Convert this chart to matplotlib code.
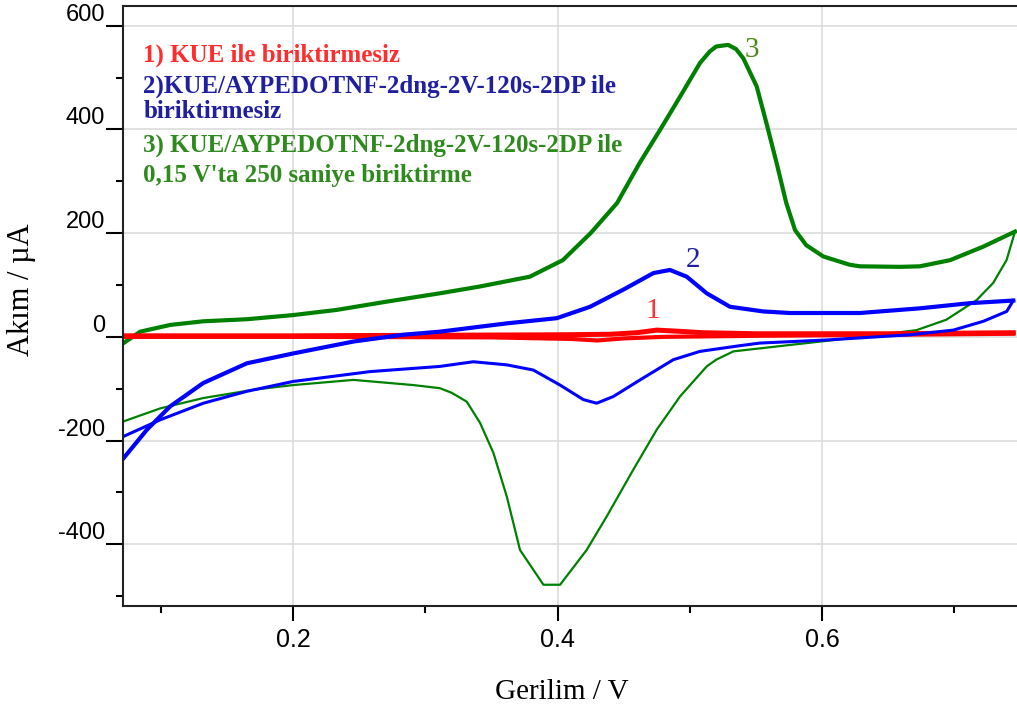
import matplotlib.pyplot as plt

# curve 3: KUE/AYPEDOTNF ... 250 s accumulation (green)
g_fwd_x = [0.0717, 0.0843, 0.107, 0.132, 0.165, 0.200, 0.233, 0.271, 0.311, 0.341, 0.379, 0.404,
           0.425, 0.445, 0.462, 0.4775, 0.4926, 0.5077, 0.515, 0.520, 0.529, 0.535, 0.5405, 0.5506,
           0.558, 0.5657, 0.573, 0.5796, 0.588, 0.601, 0.621, 0.6287, 0.659, 0.674, 0.697, 0.722, 0.746]
g_fwd_y = [-12, 10, 23, 30, 34, 42, 52, 68, 84, 97, 116, 148,
           200, 258, 335, 399, 463, 528, 550, 560, 563, 555, 537, 483,
           412, 335, 258, 206, 177, 155, 139, 136, 135, 136, 148, 174, 203]
g_rev_x = [0.746, 0.7396, 0.7295, 0.717, 0.694, 0.6716, 0.634, 0.578, 0.533, 0.520, 0.5128, 0.4926,
           0.475, 0.4573, 0.437, 0.422, 0.4019, 0.3893, 0.3716, 0.3616, 0.3515, 0.3414, 0.3313,
           0.320, 0.311, 0.291, 0.2456, 0.200, 0.170, 0.132, 0.0994, 0.0717]
g_rev_y = [203, 148, 104, 71, 33, 13, 1, -15, -28, -44, -57, -115,
           -179, -256, -347, -411, -478, -478, -411, -308, -224, -166, -125,
           -108, -99, -93, -83, -93, -102, -118, -138, -163]

# curve 2: KUE/AYPEDOTNF without accumulation (blue)
b_fwd_x = [0.0717, 0.0894, 0.107, 0.132, 0.165, 0.200, 0.2456, 0.283, 0.311, 0.3616, 0.3994, 0.4246,
           0.4497, 0.4725, 0.485, 0.4977, 0.5128, 0.5304, 0.5556, 0.5758, 0.6287, 0.674, 0.712, 0.7447]
b_fwd_y = [-234, -179, -134, -89, -51, -32, -9, 4, 10, 26, 36, 58,
           91, 123, 129, 116, 84, 58, 49, 46, 46, 55, 65, 70]
b_rev_x = [0.7447, 0.7397, 0.722, 0.6993, 0.6665, 0.6035, 0.553, 0.538, 0.5077, 0.4876, 0.4624,
           0.4422, 0.4296, 0.4195, 0.4019, 0.3817, 0.3616, 0.3363, 0.311, 0.2582, 0.200, 0.165,
           0.132, 0.0994, 0.0717]
b_rev_y = [70, 49, 30, 13, 4, -6, -12, -17, -28, -44, -83,
           -115, -128, -121, -93, -64, -54, -48, -57, -67, -86, -105,
           -128, -160, -192]

# curve 1: bare KUE (red)
r_fwd_x = [0.0717, 0.2, 0.3, 0.4, 0.44, 0.46, 0.475, 0.49, 0.51, 0.55, 0.65, 0.7447]
r_fwd_y = [2, 2, 3, 4, 5, 8, 13, 11, 8, 6, 6, 8]
r_rev_x = [0.7447, 0.65, 0.55, 0.48, 0.45, 0.43, 0.41, 0.35, 0.2, 0.0717]
r_rev_y = [6, 4, 2, 0, -3, -7, -4, -1, 0, 0]

notes = ["1) KUE ile biriktirmesiz",
         "2)KUE/AYPEDOTNF-2dng-2V-120s-2DP ile",
         "biriktirmesiz",
         "3) KUE/AYPEDOTNF-2dng-2V-120s-2DP ile",
         "0,15 V'ta 250 saniye biriktirme"]
note_y = [543, 484, 434, 369, 312]
note_col = ['#ff2d2d', '#1f1fa0', '#1f1fa0', '#2f8a1e', '#2f8a1e']

serif = ['Liberation Serif', 'DejaVu Serif']
sans = ['Liberation Sans', 'DejaVu Sans']

fig = plt.figure(figsize=(10.17, 7.13), dpi=100)
ax = fig.add_axes([123/1017, 107/713, 894/1017, 600/713])

ax.plot(g_fwd_x, g_fwd_y, color='#008000', lw=3.0)
ax.plot(g_rev_x, g_rev_y, color='#008000', lw=1.6)
ax.plot(r_fwd_x, r_fwd_y, color='#ff0000', lw=3.6)
ax.plot(r_rev_x, r_rev_y, color='#ff0000', lw=3.0)
ax.plot(b_fwd_x, b_fwd_y, color='#0000ff', lw=3.0)
ax.plot(b_rev_x, b_rev_y, color='#0000ff', lw=2.2)

ax.set_xlim(0.0713, 0.7475)
ax.set_ylim(-519, 638)

ax.set_xticks([0.2, 0.4, 0.6])
ax.set_xticks([0.1, 0.3, 0.5, 0.7], minor=True)
ax.set_xticklabels(['0.2', '0.4', '0.6'], family=sans, fontsize=18)
ax.set_yticks([-400, -200, 0, 200, 400, 600])
ax.set_yticks([-500, -300, -100, 100, 300, 500], minor=True)
ax.set_yticklabels(['-400', '-200', '0', '200', '400', '600'], family=sans, fontsize=17, va='bottom')

ax.tick_params(axis='y', which='major', direction='out', length=12, width=1.5, pad=1)
ax.tick_params(axis='y', which='minor', direction='out', length=5, width=1.5)
ax.tick_params(axis='x', which='major', direction='out', length=11, width=1.5, pad=5)
ax.tick_params(axis='x', which='minor', direction='out', length=5, width=1.5)

ax.grid(True, which='major', color='#dcdcdc', lw=1.2)
ax.set_axisbelow(True)
ax.spines['right'].set_visible(False)
for s in ['left', 'top', 'bottom']:
    ax.spines[s].set_linewidth(1.5)
    ax.spines[s].set_color('#222222')

ax.set_xlabel('Gerilim / V', family=serif, fontsize=21, va='center')
ax.xaxis.set_label_coords(0.491, -0.143)
ax.set_ylabel('Akım / µA', family=serif, fontsize=22, va='center', ha='center')
ax.yaxis.set_label_coords(-0.113, 0.527)

for txt, yy, cc in zip(notes, note_y, note_col):
    ax.text(0.0867, yy, txt, color=cc, family=serif, fontsize=18, fontweight='bold', va='center')

ax.text(0.4722, 49, '1', color='#ff3333', family=serif, fontsize=21, ha='center', va='center')
ax.text(0.5025, 148, '2', color='#1f1fa0', family=serif, fontsize=21, ha='center', va='center')
ax.text(0.5466, 553, '3', color='#4a8a10', family=serif, fontsize=21, ha='center', va='center')

plt.savefig('out.png', dpi=100)
